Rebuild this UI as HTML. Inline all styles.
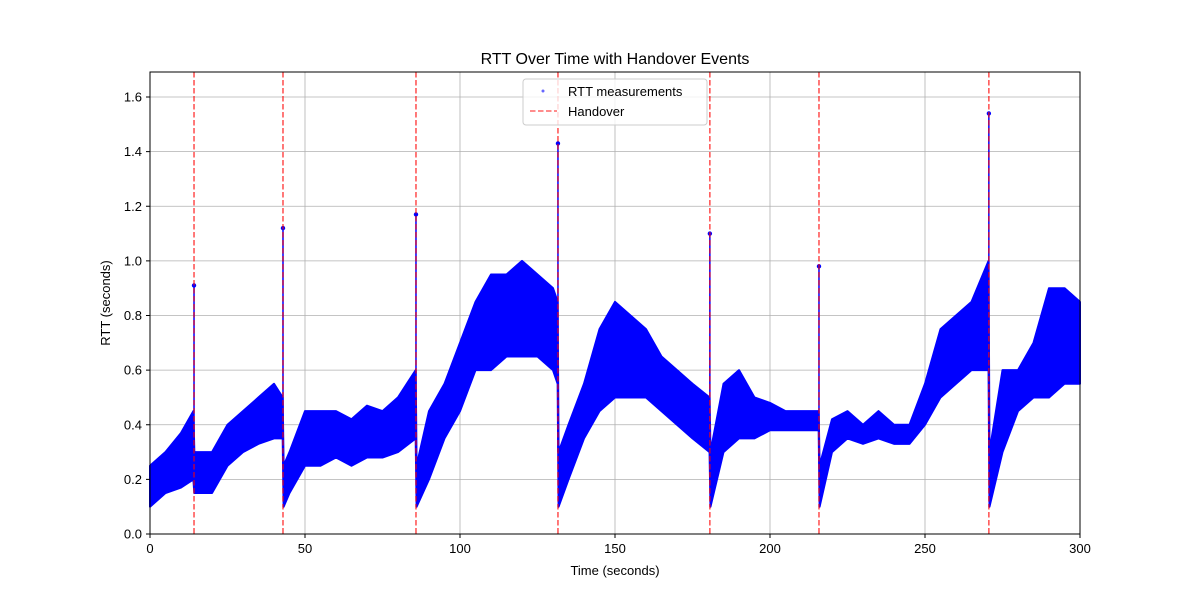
<!DOCTYPE html>
<html><head><meta charset="utf-8"><style>
body{margin:0;background:#fff;}
svg text{font-family:"Liberation Sans",sans-serif;fill:#000;}
</style></head><body>
<svg id="chart" width="1200" height="600" xmlns="http://www.w3.org/2000/svg">
<rect width="1200" height="600" fill="#fff"/>
<g id="grid"></g><g id="band"></g><g id="spikes"></g><g id="handovers"></g><g id="axes"></g>
<text x="615" y="64" font-size="16" text-anchor="middle">RTT Over Time with Handover Events</text>
<text x="615" y="575" font-size="13" text-anchor="middle">Time (seconds)</text>
<text x="110" y="303" font-size="13" text-anchor="middle" transform="rotate(-90 110 303)">RTT (seconds)</text>
<g>
<rect x="523" y="79" width="184" height="46" rx="3" fill="#fff" fill-opacity="0.8" stroke="#ccc"/>
<circle cx="543" cy="91" r="1.5" fill="blue" opacity="0.6"/>
<text x="568" y="96" font-size="13">RTT measurements</text>
<line x1="530" y1="111" x2="557" y2="111" stroke="red" stroke-opacity="0.6" stroke-width="1.5" stroke-dasharray="5.5,2.5"/>
<text x="568" y="116" font-size="13">Handover</text>
</g>
</svg>
<script>
const times=[0,5,10,14,14.3,20,25,30,35,40,42.8,43.1,45,50,55,60,65,70,75,80,85.7,86,90,95,100,105,110,115,120,125,130,131.5,131.8,135,140,145,150,155,160,165,170,175,180.5,180.8,185,190,195,200,205,210,215.7,216,220,225,230,235,240,245,250,255,260,265,270.5,270.8,275,280,285,290,295,300];
const lows=[0.1,0.15,0.17,0.2,0.15,0.15,0.25,0.3,0.33,0.35,0.35,0.1,0.15,0.25,0.25,0.28,0.25,0.28,0.28,0.3,0.35,0.1,0.2,0.35,0.45,0.6,0.6,0.65,0.65,0.65,0.6,0.55,0.1,0.2,0.35,0.45,0.5,0.5,0.5,0.45,0.4,0.35,0.3,0.1,0.3,0.35,0.35,0.38,0.38,0.38,0.38,0.1,0.3,0.35,0.33,0.35,0.33,0.33,0.4,0.5,0.55,0.6,0.6,0.1,0.3,0.45,0.5,0.5,0.55,0.55];
const highs=[0.25,0.3,0.37,0.45,0.3,0.3,0.4,0.45,0.5,0.55,0.5,0.25,0.3,0.45,0.45,0.45,0.42,0.47,0.45,0.5,0.6,0.25,0.45,0.55,0.7,0.85,0.95,0.95,1.0,0.95,0.9,0.85,0.3,0.4,0.55,0.75,0.85,0.8,0.75,0.65,0.6,0.55,0.5,0.3,0.55,0.6,0.5,0.48,0.45,0.45,0.45,0.25,0.42,0.45,0.4,0.45,0.4,0.4,0.55,0.75,0.8,0.85,1.0,0.3,0.6,0.6,0.7,0.9,0.9,0.85];
const handoverTimes=[14.2,42.9,85.8,131.6,180.6,215.8,270.6];
const spikeValues=[0.91,1.12,1.17,1.43,1.10,0.98,1.54];
const xTicks=[0,50,100,150,200,250,300];
const yTicks=[0,0.2,0.4,0.6,0.8,1.0,1.2,1.4,1.6];
const NS="http://www.w3.org/2000/svg";
const X=t=>150+t*930/300, Y=v=>534-v*(437/1.6);
function mk(tag,attrs,parent){const e=document.createElementNS(NS,tag);for(const k in attrs)e.setAttribute(k,attrs[k]);parent.appendChild(e);return e;}
const grid=document.getElementById('grid'),axes=document.getElementById('axes');
xTicks.forEach(t=>{const g=mk('line',{x1:X(t),x2:X(t),y1:72,y2:534,stroke:'#b0b0b0','stroke-width':0.8},grid);


mk('line',{x1:X(t),x2:X(t),y1:534,y2:538,stroke:'#000'},axes);
const l=mk('text',{x:X(t),y:553,'font-size':13,'text-anchor':'middle'},axes);l.textContent=t;

});
yTicks.forEach(v=>{const g=mk('line',{x1:150,x2:1080,y1:Y(v),y2:Y(v),stroke:'#b0b0b0','stroke-width':0.8},grid);


mk('line',{x1:146,x2:150,y1:Y(v),y2:Y(v),stroke:'#000'},axes);
const l=mk('text',{x:142,y:Y(v)+4.5,'font-size':13,'text-anchor':'end'},axes);l.textContent=v.toFixed(1);

});
const fr=mk('rect',{x:150,y:72,width:930,height:462,fill:'none',stroke:'#000','stroke-width':1},axes);


let pts=times.map((t,i)=>X(t)+','+Y(highs[i]));
for(let i=times.length-1;i>=0;i--)pts.push(X(times[i])+','+Y(lows[i]));
const band=mk('polygon',{points:pts.join(' '),fill:'#0000ff',stroke:'#0000ff','stroke-width':2,'stroke-linejoin':'round'},document.getElementById('band'));


const sp=document.getElementById('spikes'),ho=document.getElementById('handovers');
handoverTimes.forEach((t,i)=>{
const s=mk('line',{x1:X(t),x2:X(t),y1:Y(0.3),y2:Y(spikeValues[i]),stroke:'#0000ff','stroke-width':1.5},sp);


const c=mk('circle',{cx:X(t),cy:Y(spikeValues[i]),r:2.2,fill:'#0000ff'},sp);


const h=mk('line',{x1:X(t),x2:X(t),y1:72,y2:534,stroke:'red','stroke-opacity':0.7,'stroke-width':1.5,'stroke-dasharray':'5.5,2.5'},ho);

});
</script>
</body></html>
